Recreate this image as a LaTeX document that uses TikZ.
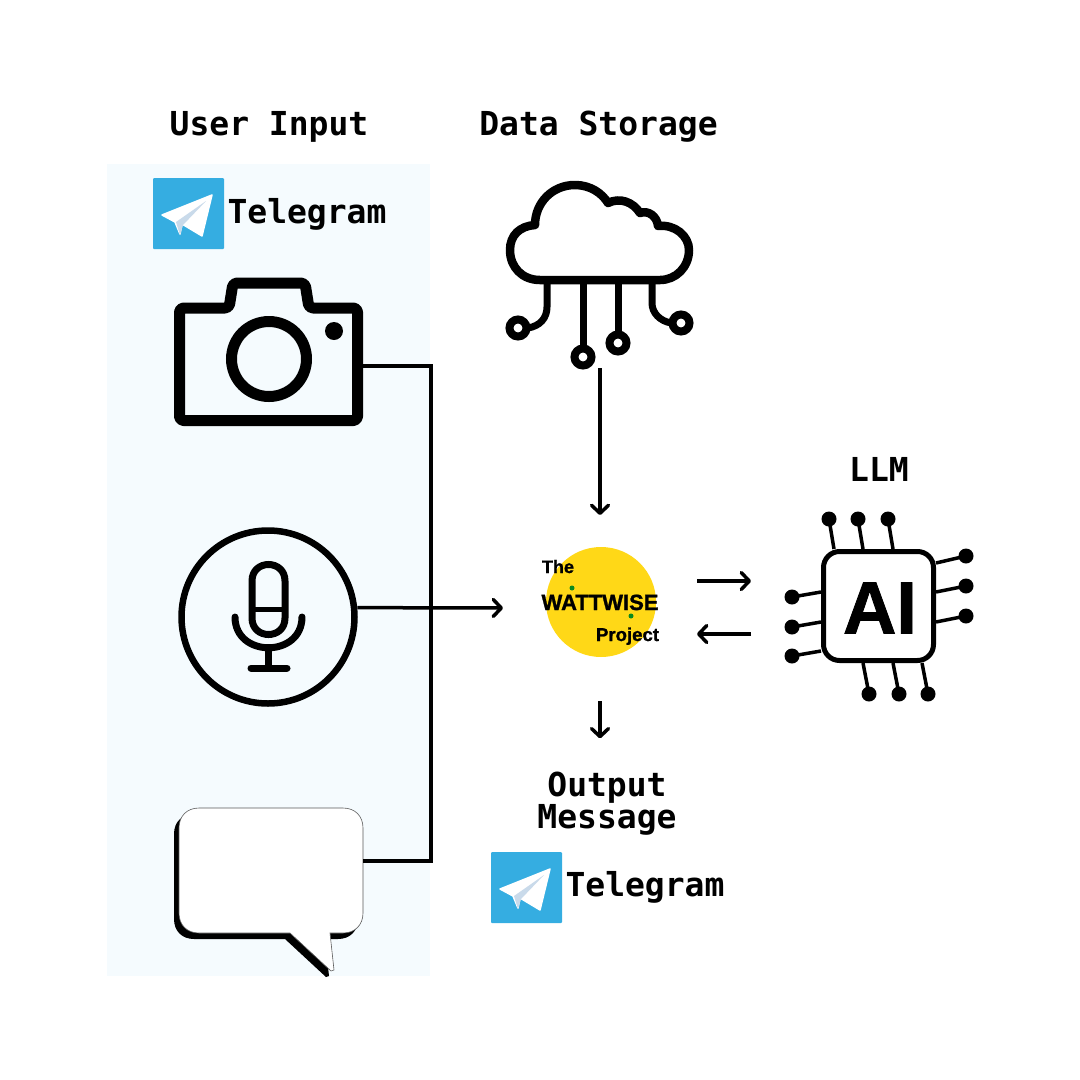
\documentclass[tikz,border=0pt]{standalone}
\usepackage{fontspec}
\usetikzlibrary{arrows.meta}
\setmainfont{Liberation Sans}
\newfontfamily\monofont{DejaVu Sans Mono}[BoldFont={DejaVu Sans Mono Bold}]
\newfontfamily\heavyfont{Liberation Sans Bold}[FakeBold=1.2]
\definecolor{panelblue}{HTML}{F5FBFE}
\definecolor{telegramblue}{HTML}{35ADE1}
\definecolor{planeshade}{HTML}{C9DAEA}
\definecolor{wattyellow}{HTML}{FFD817}
\definecolor{wattgreen}{HTML}{0A8A1E}
\newcommand{\bubbleoutline}{(199,808) -- (343,808) .. controls (355,808) and (363,816) .. (363,828) -- (363,913) .. controls (363,925) and (355,933) .. (343,933) -- (330,933) -- (334,970) -- (331,971) -- (290,933) -- (199,933) .. controls (187,933) and (179,925) .. (179,913) -- (179,828) .. controls (179,816) and (187,808) .. (199,808) -- cycle}
\tikzset{
	iconbox/.style={inner sep=0pt, outer sep=0pt},
	titletext/.style={font=\fontsize{33}{32}\selectfont\monofont\bfseries, inner sep=0pt, anchor=base},
	logotext/.style={inner sep=0pt, anchor=base},
	flow/.style={->, line width=3.5pt},
	pin/.style={line width=3.5pt},
	telegramicon/.pic={
		\fill[telegramblue, rounded corners=1pt] (0,0) rectangle (71,71);
		\filldraw[white, line width=1.5pt, line join=round] (59,17) -- (9,37) -- (22,44) -- (27,56) -- (29,46) -- (49,58) -- cycle;
		\fill[planeshade] (23,44) -- (27,57) -- (30,47) -- (53,23) -- cycle;
	}
}
\begin{document}
\begin{tikzpicture}[x=1pt, y=-1pt, >={Straight Barb[length=8pt, width=17pt, round]}]
	\useasboundingbox (0,0) rectangle (1080,1080);
	
	% Panel
	\fill[panelblue] (107,164) rectangle (430,976);
	
	% Titles
	\node[titletext] (userinput) at (269,135) {User Input};
	\node[titletext] (datastorage) at (598.5,135) {Data Storage};
	\node[titletext] (llm) at (879,481) {LLM};
	\node[titletext] (outputline) at (607,796) {Output};
	\node[titletext] (messageline) at (607,828) {Message};
	\node[titletext] (telegramtop) at (307,223) {Telegram};
	\node[titletext] (telegrambottom) at (645,896) {Telegram};
	\pic at (153,178) {telegramicon};
	\pic at (491,852) {telegramicon};
	
	% Camera
	\node[iconbox, minimum width=189pt, minimum height=100pt] (camera) at (268.5,366) {};
	\draw[line width=11pt, rounded corners=4pt, line join=round] (179.5,308) -- (229,308) -- (233,283) -- (305,283) -- (309,308) -- (357.5,308) -- (357.5,420.5) -- (179.5,420.5) -- cycle;
	\draw[line width=11pt] (269,359) circle[radius=37.5];
	\fill (334,331) circle[radius=9];
	
	% Microphone
	\node[draw, circle, line width=6.5pt, minimum size=173pt, inner sep=0pt] (mic) at (268,617) {};
	\draw[line width=7pt] (252,581) -- (252,618) .. controls (252,640) and (285,640) .. (285,618) -- (285,581) .. controls (285,559) and (252,559) .. (252,581) -- cycle;
	\draw[line width=5pt] (252,609) -- (285,609);
	\draw[line width=7pt, line cap=round] (235,617) .. controls (235,658) and (302,658) .. (302,617);
	\draw[line width=7pt] (268.5,648) -- (268.5,668);
	\draw[line width=7pt, line cap=round] (251,668) -- (287,668);
	
	% Speech bubble
	\node[iconbox, minimum width=184pt, minimum height=100pt] (bubble) at (271,861) {};
	\fill[shift={(-5,6)}] \bubbleoutline;
	\draw[gray!70!black, line width=0.6pt, fill=white] \bubbleoutline;
	
	% Cloud
	\node[iconbox, minimum width=186pt, minimum height=186pt] (cloud) at (600,275) {};
	\draw[line width=8.5pt, line join=round] (540,280) .. controls (522,280) and (510,267) .. (510,250) .. controls (510,235) and (520,226) .. (535,225) .. controls (535,203) and (552,185) .. (575,185) .. controls (590,185) and (602,193) .. (608,203) .. controls (620,197) and (633,202) .. (640,213) .. controls (648,210) and (657,216) .. (658,226) .. controls (675,224) and (689,236) .. (689,250) .. controls (689,267) and (676,280) .. (660,280) -- cycle;
	\draw[line width=7pt] (547,280) -- (547,307) .. controls (547,318) and (540,326) .. (528,328);
	\draw[line width=7pt] (583,280) -- (583,347);
	\draw[line width=7pt] (618,280) -- (618,333);
	\draw[line width=7pt] (652,280) -- (652,303) .. controls (652,313) and (660,321) .. (671,323);
	\foreach \cx/\cy in {518/328, 583/357, 618/343, 681/323}
		\draw[line width=8pt] (\cx,\cy) circle[radius=8.5];
	
	% Wattwise logo
	\node[iconbox, minimum width=194pt, minimum height=186pt] (watt) at (600,608) {};
	\fill[wattyellow] (601,602) circle[radius=55];
	\node[logotext, font=\fontsize{18}{18}\selectfont\heavyfont] (thelabel) at (558,573) {The};
	\node[logotext, font=\fontsize{22}{22}\selectfont\heavyfont] (wattlabel) at (600,610) {WATTWISE};
	\node[logotext, font=\fontsize{18.6}{18}\selectfont\heavyfont] (projectlabel) at (627.5,641) {Project};
	\fill[wattgreen] (572,588) circle[radius=2.5];
	\fill[wattgreen] (631,616) circle[radius=2.5];
	
	% AI chip
	\node[iconbox, minimum width=220pt, minimum height=160pt] (chipzone) at (861,607) {};
	\foreach \px/\py/\qx/\qy in {829/519/834/549, 858/519/863/549, 888/519/893/549, 966/556/936/563, 966/586/936/592, 966/616/936/622, 869/694/863/663, 899/694/893/663, 928/694/922/663, 792/597/821/592, 792/627/821/622, 792/656/821/651}{
		\draw[pin] (\px,\py) -- (\qx,\qy);
		\fill (\px,\py) circle[radius=7.5];
	}
	\draw[line width=5pt, rounded corners=16pt, fill=white] (823.5,551.5) rectangle (933.5,660.5);
	\node[iconbox, font=\fontsize{74}{74}\selectfont\heavyfont, anchor=base] (chiptext) at (880,633.5) {AI};
	
	% Connectors
	\coordinate (bustop) at (431,366);
	\coordinate (busbottom) at (431,861);
	\draw[line width=4pt] (camera.east) -- (bustop) -- (busbottom) -- (bubble.east);
	\draw[flow] (mic.6.4) -- (watt.west);
	\draw[flow] (cloud.south) -- (watt.north);
	\draw[flow] (watt.south) -- ([yshift=33pt]watt.south |- outputline.north);
	\draw[flow] ([yshift=27pt]watt.east) -- ([yshift=26pt]chipzone.west);
	\draw[flow] ([yshift=-27pt]chipzone.west) -- ([yshift=-26pt]watt.east);
\end{tikzpicture}
\end{document}
